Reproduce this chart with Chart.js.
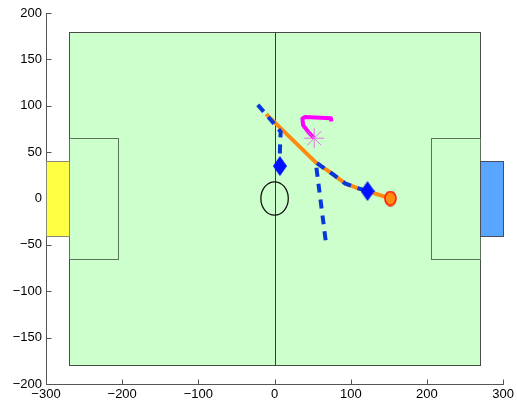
<!DOCTYPE html>
<html>
<head>
<meta charset="utf-8">
<script src="https://cdn.jsdelivr.net/npm/chart.js@4.4.1/dist/chart.umd.min.js"></script>
<style>
  html, body { margin: 0; padding: 0; background: #fff; }
  #wrap { width: 517px; height: 410px; }
</style>
</head>
<body>
<div id="wrap"><canvas id="c" width="517" height="410"></canvas></div>
<script>
// Axis ticks
const xTicks = [-300, -200, -100, 0, 100, 200, 300];
const yTicks = [-200, -150, -100, -50, 0, 50, 100, 150, 200];

// Pitch outline
const fieldX = [-270, 270];
const fieldY = [-180, 180];
const boxDepth = 65;
const boxHalfWidth = 65;
const goalDepth = 30;
const goalHalfWidth = 40;
const centreRadius = 18;

// Player A run (blue dashed, diamond at the end)
const playerAX = [-22, -1, 8, 7, 7];
const playerAY = [101, 81, 72, 52, 35];

// Player B run
const playerBX = [67, 54, 75, 93, 110, 122];
const playerBY = [-45, 39, 27, 16, 11, 8];

// Ball path (orange, ball at the end)
const ballX = [-11, 54, 75, 93, 110, 122, 152];
const ballY = [91, 39, 27, 16, 11, 8, 0];

// Opponent run (magenta, asterisk at the end)
const oppX = [74.5, 74, 40, 36.5, 37.5, 45, 52];
const oppY = [83, 86.5, 88, 86, 79, 71, 65];

const toPoints = (xs, ys) => xs.map((v, i) => ({ x: v, y: ys[i] }));
const minus = v => String(v).replace('-', '\u2212');

// Marker images
function makeDiamond(w, h, color) {
  const c = document.createElement('canvas');
  c.width = w; c.height = h;
  const g = c.getContext('2d');
  g.fillStyle = color;
  g.beginPath();
  g.moveTo(w / 2, 0); g.lineTo(w, h / 2); g.lineTo(w / 2, h); g.lineTo(0, h / 2);
  g.closePath(); g.fill();
  return c;
}
function makeBall(w, h, fill, stroke) {
  const c = document.createElement('canvas');
  c.width = w; c.height = h;
  const g = c.getContext('2d');
  g.beginPath();
  g.ellipse(w / 2, h / 2, w / 2 - 1, h / 2 - 1, 0, 0, Math.PI * 2);
  g.fillStyle = fill; g.fill();
  g.lineWidth = 1.5; g.strokeStyle = stroke; g.stroke();
  return c;
}
const diamond = makeDiamond(14, 20, '#0010ff');
const ball = makeBall(13, 16, '#ff8c10', '#ff1000');

const lastOnly = (val) => (ctx) => ctx.dataIndex === ctx.dataset.data.length - 1 ? val : 0;

// Pitch markings and inward tick marks, drawn under the runs
const pitchPlugin = {
  id: 'pitch',
  beforeDatasetsDraw(chart) {
    const { ctx, scales: { x, y } } = chart;
    const px = v => x.getPixelForValue(v);
    const py = v => y.getPixelForValue(v);
    const crisp = v => Math.round(v) + 0.5;

    ctx.save();
    // tick marks pointing into the axes
    ctx.strokeStyle = '#555';
    ctx.lineWidth = 1;
    const x0 = crisp(x.left), yb = crisp(y.bottom);
    y.ticks.forEach(t => {
      const yy = crisp(py(t.value));
      ctx.beginPath(); ctx.moveTo(x0, yy); ctx.lineTo(x0 + 5, yy); ctx.stroke();
    });
    x.ticks.forEach(t => {
      const xx = crisp(px(t.value));
      ctx.beginPath(); ctx.moveTo(xx, yb); ctx.lineTo(xx, yb - 5); ctx.stroke();
    });

    const rect = (ax, bx, ay, by, fill, stroke) => {
      const l = crisp(px(ax)), r = crisp(px(bx));
      const t = crisp(py(by)), b = crisp(py(ay));
      if (fill) { ctx.fillStyle = fill; ctx.fillRect(l, t, r - l, b - t); }
      if (stroke) { ctx.strokeStyle = stroke; ctx.strokeRect(l, t, r - l, b - t); }
    };

    // field
    ctx.lineWidth = 1;
    rect(fieldX[0], fieldX[1], fieldY[0], fieldY[1], '#ccffcc', '#4a4a4a');

    // halfway line
    ctx.strokeStyle = '#3a3a3a';
    ctx.beginPath();
    ctx.moveTo(crisp(px(0)), crisp(py(fieldY[1])));
    ctx.lineTo(crisp(px(0)), crisp(py(fieldY[0])));
    ctx.stroke();

    // penalty areas
    rect(fieldX[0], fieldX[0] + boxDepth, -boxHalfWidth, boxHalfWidth, null, '#5b735b');
    rect(fieldX[1] - boxDepth, fieldX[1], -boxHalfWidth, boxHalfWidth, null, '#5b735b');

    // goals
    rect(fieldX[0] - goalDepth, fieldX[0], -goalHalfWidth, goalHalfWidth, '#ffff44', '#8a8a70');
    rect(fieldX[1], fieldX[1] + goalDepth, -goalHalfWidth, goalHalfWidth, '#58a6ff', '#4d4d5a');

    // centre circle
    ctx.strokeStyle = '#111';
    ctx.lineWidth = 1.3;
    ctx.beginPath();
    ctx.ellipse(px(0), py(0),
      Math.abs(px(centreRadius) - px(0)),
      Math.abs(py(centreRadius) - py(0)), 0, 0, Math.PI * 2);
    ctx.stroke();
    ctx.restore();
  }
};

const tickFont = { family: '"Liberation Sans", Arial, sans-serif', size: 13 };

new Chart(document.getElementById('c'), {
  type: 'scatter',
  data: {
    datasets: [
      {
        label: 'Opponent',
        data: toPoints(oppX, oppY),
        showLine: true,
        borderColor: '#ff00ff',
        borderWidth: 4,
        pointStyle: 'star',
        pointRadius: lastOnly(10),
        pointBorderColor: '#e870e8',
        pointBorderWidth: 1,
        order: 1
      },
      {
        label: 'Player A',
        data: toPoints(playerAX, playerAY),
        showLine: true,
        borderColor: '#0638e0',
        borderWidth: 4,
        borderDash: [9, 7],
        pointStyle: diamond,
        pointRadius: lastOnly(8),
        order: 2
      },
      {
        label: 'Player B',
        data: toPoints(playerBX, playerBY),
        showLine: true,
        borderColor: '#0638e0',
        borderWidth: 4,
        borderDash: [9, 7],
        pointStyle: diamond,
        pointRadius: lastOnly(8),
        order: 2
      },
      {
        label: 'Ball',
        data: toPoints(ballX, ballY),
        showLine: true,
        borderColor: '#ff8a10',
        borderWidth: 4,
        pointStyle: ball,
        pointRadius: lastOnly(7),
        order: 3
      }
    ]
  },
  options: {
    responsive: false,
    animation: false,
    events: [],
    layout: { padding: { top: 13, right: 12.5, left: 0, bottom: 0 } },
    plugins: { legend: { display: false }, tooltip: { enabled: false } },
    elements: { line: { tension: 0, borderCapStyle: 'butt', borderJoinStyle: 'round' } },
    scales: {
      x: {
        type: 'linear',
        min: xTicks[0], max: xTicks[xTicks.length - 1],
        afterBuildTicks: s => { s.ticks = xTicks.map(v => ({ value: v })); },
        afterFit: s => { s.height = 26; },
        ticks: { color: '#000', font: tickFont, padding: 3, maxRotation: 0, autoSkip: false,
                 callback: v => minus(v) },
        grid: { display: true, drawOnChartArea: false, drawTicks: false },
        border: { display: true, color: '#555', width: 1 }
      },
      y: {
        type: 'linear',
        min: yTicks[0], max: yTicks[yTicks.length - 1],
        afterBuildTicks: s => { s.ticks = yTicks.map(v => ({ value: v })); },
        afterFit: s => { s.width = 46; },
        ticks: { color: '#000', font: tickFont, padding: 4, autoSkip: false,
                 callback: v => minus(v) },
        grid: { display: true, drawOnChartArea: false, drawTicks: false },
        border: { display: true, color: '#555', width: 1 }
      }
    }
  },
  plugins: [pitchPlugin]
});
</script>
</body>
</html>
